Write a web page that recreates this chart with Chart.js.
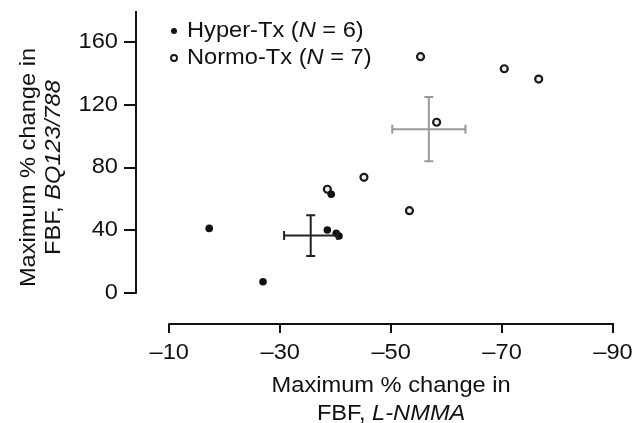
<!DOCTYPE html>
<html lang="en">
<head>
    <meta charset="UTF-8">
    <title>FBF response scatter</title>
    <script src="https://cdn.jsdelivr.net/npm/chart.js"></script>
    <style>
        body { margin: 0; background: #fff; }
        #wrap { width: 634px; height: 423px; }
    </style>
</head>
<body>
    <div id="wrap"><canvas id="fbfChart" width="634" height="423"></canvas></div>
    <script>
        // Data (x = L-NMMA change, y = BQ123/788 change)
        const hyperX = [-17.2, -26.9, -38.5, -40.1, -40.6, -39.2];
        const hyperY = [41.1, 7.0, 40.1, 38.0, 36.2, 62.9];
        const normoX = [-38.5, -45.1, -53.3, -55.3, -58.2, -70.4, -76.6];
        const normoY = [66.1, 73.7, 52.4, 150.8, 108.9, 143.1, 136.5];

        // group mean +/- error: [x, y, errX, errY]
        const hyperMean = [-35.5, 36.5, 4.8, 13];
        const normoMean = [-56.8, 104.5, 6.6, 20.5];

        const xTicks = [-10, -30, -50, -70, -90];
        const yTicks = [0, 40, 80, 120, 160];
        const legendLabels = ['Hyper-Tx', 'Normo-Tx'];
        const legendN = [6, 7];

        const FONT = "'Liberation Sans', Arial, sans-serif";
        const INK = '#111';
        const SIZE = 21.5;
        const STRETCH = 1.1; // reference type is a bit wider than Arial

        function toPoints(xs, ys) {
            return xs.map((x, i) => ({ x: x, y: ys[i] }));
        }

        function fmt(v) {
            return v < 0 ? '\u2013' + Math.abs(v) : String(v);
        }

        function partsWidth(ctx, parts, size) {
            let w = 0;
            parts.forEach(p => {
                ctx.font = (p[1] ? 'italic ' : '') + size + 'px ' + FONT;
                w += ctx.measureText(p[0]).width;
            });
            return w * STRETCH;
        }

        // draw [text, italic] parts; align 'center' | 'left' | 'right' at (ax, cy)
        function mixedText(ctx, parts, size, ax, cy, align) {
            const total = partsWidth(ctx, parts, size);
            let x = ax;
            if (align === 'center') x = ax - total / 2;
            if (align === 'right') x = ax - total;
            ctx.save();
            ctx.translate(x, cy);
            ctx.scale(STRETCH, 1);
            ctx.textAlign = 'left';
            ctx.textBaseline = 'middle';
            let off = 0;
            parts.forEach(p => {
                ctx.font = (p[1] ? 'italic ' : '') + size + 'px ' + FONT;
                ctx.fillText(p[0], off, 0);
                off += ctx.measureText(p[0]).width;
            });
            ctx.restore();
        }

        const extras = {
            id: 'extras',
            afterDatasetsDraw(chart) {
                const ctx = chart.ctx;
                const xs = chart.scales.x, ys = chart.scales.y;
                // mean crosses
                [[hyperMean, '#222'], [normoMean, '#9a9a9a']].forEach(([m, col]) => {
                    const cx = xs.getPixelForValue(m[0]), cy = ys.getPixelForValue(m[1]);
                    const x1 = xs.getPixelForValue(m[0] + m[2]), x2 = xs.getPixelForValue(m[0] - m[2]);
                    const y1 = ys.getPixelForValue(m[1] + m[3]), y2 = ys.getPixelForValue(m[1] - m[3]);
                    const cap = 4.5;
                    ctx.save();
                    ctx.strokeStyle = col;
                    ctx.lineWidth = 2;
                    ctx.beginPath();
                    ctx.moveTo(x1, cy); ctx.lineTo(x2, cy);
                    ctx.moveTo(cx, y1); ctx.lineTo(cx, y2);
                    ctx.moveTo(x1, cy - cap); ctx.lineTo(x1, cy + cap);
                    ctx.moveTo(x2, cy - cap); ctx.lineTo(x2, cy + cap);
                    ctx.moveTo(cx - cap, y1); ctx.lineTo(cx + cap, y1);
                    ctx.moveTo(cx - cap, y2); ctx.lineTo(cx + cap, y2);
                    ctx.stroke();
                    ctx.restore();
                });
            },
            afterDraw(chart) {
                const ctx = chart.ctx;
                const xs = chart.scales.x, ys = chart.scales.y;
                const area = chart.chartArea;
                ctx.save();
                ctx.strokeStyle = INK;
                ctx.fillStyle = INK;
                ctx.lineWidth = 2;
                // detached axis lines
                ctx.beginPath();
                ctx.moveTo(area.left, area.top);
                ctx.lineTo(area.left, ys.getPixelForValue(0) + 1);
                ctx.moveTo(xs.getPixelForValue(-10) - 1, area.bottom);
                ctx.lineTo(xs.getPixelForValue(-90) + 1, area.bottom);
                ctx.stroke();

                // tick labels
                xs.ticks.forEach(t => {
                    mixedText(ctx, [[fmt(t.value), false]], SIZE, xs.getPixelForValue(t.value), 353, 'center');
                });
                ys.ticks.forEach(t => {
                    mixedText(ctx, [[fmt(t.value), false]], SIZE, 118, ys.getPixelForValue(t.value), 'right');
                });

                // x title
                const xc = xs.getPixelForValue(-50);
                mixedText(ctx, [['Maximum % change in', false]], SIZE, xc, 386, 'center');
                mixedText(ctx, [['FBF, ', false], ['L-NMMA', true]], SIZE, xc, 414, 'center');

                // y title
                const yc = ys.getPixelForValue(80);
                ctx.save();
                ctx.translate(29, yc);
                ctx.rotate(-Math.PI / 2);
                mixedText(ctx, [['Maximum % change in', false]], SIZE, 0, 0, 'center');
                ctx.restore();
                ctx.save();
                ctx.translate(54, yc);
                ctx.rotate(-Math.PI / 2);
                mixedText(ctx, [['FBF, ', false], ['BQ123/788', true]], SIZE, 0, 0, 'center');
                ctx.restore();

                // legend
                const rows = [31, 58];
                rows.forEach((ly, i) => {
                    ctx.beginPath();
                    ctx.arc(174, ly, 3, 0, Math.PI * 2);
                    if (i === 0) {
                        ctx.fill();
                    } else {
                        ctx.lineWidth = 1.8;
                        ctx.fillStyle = '#fff';
                        ctx.fill();
                        ctx.stroke();
                        ctx.fillStyle = INK;
                    }
                    const parts = [[legendLabels[i] + ' (', false], ['N', true], [' = ' + legendN[i] + ')', false]];
                    mixedText(ctx, parts, SIZE, 187, ly, 'left');
                });
                ctx.restore();
            }
        };

        new Chart(document.getElementById('fbfChart'), {
            type: 'scatter',
            data: {
                datasets: [
                    {
                        label: 'Hyper-Tx',
                        data: toPoints(hyperX, hyperY),
                        pointRadius: 3.8,
                        pointBackgroundColor: INK,
                        pointBorderColor: INK,
                        pointBorderWidth: 0
                    },
                    {
                        label: 'Normo-Tx',
                        data: toPoints(normoX, normoY),
                        pointRadius: 3.5,
                        pointBackgroundColor: '#eee',
                        pointBorderColor: '#1a1a1a',
                        pointBorderWidth: 2.2
                    }
                ]
            },
            options: {
                responsive: false,
                animation: false,
                layout: { padding: { top: 11, right: 21, left: 0, bottom: 0 } },
                plugins: { legend: { display: false }, tooltip: { enabled: false } },
                scales: {
                    x: {
                        type: 'linear',
                        reverse: true,
                        min: -90,
                        max: -4,
                        afterFit(scale) { scale.height = 99; },
                        afterBuildTicks(scale) { scale.ticks = xTicks.map(v => ({ value: v })); },
                        border: { display: false },
                        grid: { drawOnChartArea: false, drawTicks: true, tickLength: 9, lineWidth: 2, color: INK },
                        ticks: { display: false }
                    },
                    y: {
                        type: 'linear',
                        min: -20,
                        max: 180,
                        afterFit(scale) { scale.width = 136; },
                        afterBuildTicks(scale) { scale.ticks = yTicks.map(v => ({ value: v })); },
                        border: { display: false },
                        grid: { drawOnChartArea: false, drawTicks: true, tickLength: 12, lineWidth: 2, color: INK },
                        ticks: { display: false }
                    }
                }
            },
            plugins: [extras]
        });
    </script>
</body>
</html>
